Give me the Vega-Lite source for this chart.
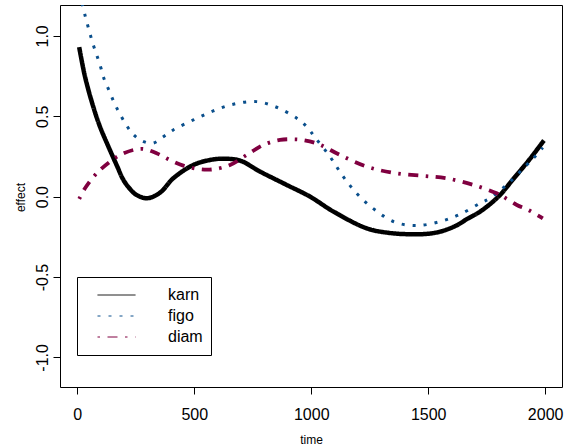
{
  "$schema": "https://vega.github.io/schema/vega-lite/v6.json",
  "autosize": {"type": "none"},
  "width": 502,
  "height": 382,
  "padding": {"left": 60, "top": 5, "right": 2, "bottom": 60},
  "background": "white",
  "datasets": {
    "curves": [
      {"series": "karn", "time": 8, "effect": 0.93},
      {"series": "karn", "time": 33, "effect": 0.746},
      {"series": "karn", "time": 68, "effect": 0.56},
      {"series": "karn", "time": 97, "effect": 0.435},
      {"series": "karn", "time": 133, "effect": 0.311},
      {"series": "karn", "time": 170, "effect": 0.19},
      {"series": "karn", "time": 197, "effect": 0.104},
      {"series": "karn", "time": 230, "effect": 0.04},
      {"series": "karn", "time": 254, "effect": 0.01},
      {"series": "karn", "time": 299, "effect": -0.01},
      {"series": "karn", "time": 354, "effect": 0.025},
      {"series": "karn", "time": 410, "effect": 0.114},
      {"series": "karn", "time": 496, "effect": 0.197},
      {"series": "karn", "time": 567, "effect": 0.228},
      {"series": "karn", "time": 624, "effect": 0.236},
      {"series": "karn", "time": 696, "effect": 0.224},
      {"series": "karn", "time": 781, "effect": 0.156},
      {"series": "karn", "time": 895, "effect": 0.073},
      {"series": "karn", "time": 995, "effect": 0.0},
      {"series": "karn", "time": 1095, "effect": -0.093},
      {"series": "karn", "time": 1237, "effect": -0.197},
      {"series": "karn", "time": 1330, "effect": -0.225},
      {"series": "karn", "time": 1422, "effect": -0.234},
      {"series": "karn", "time": 1490, "effect": -0.232},
      {"series": "karn", "time": 1551, "effect": -0.218},
      {"series": "karn", "time": 1620, "effect": -0.18},
      {"series": "karn", "time": 1665, "effect": -0.14},
      {"series": "karn", "time": 1722, "effect": -0.093},
      {"series": "karn", "time": 1800, "effect": 0.0},
      {"series": "karn", "time": 1864, "effect": 0.11},
      {"series": "karn", "time": 1935, "effect": 0.235},
      {"series": "karn", "time": 1995, "effect": 0.35},
      {"series": "figo", "time": 8, "effect": 1.27},
      {"series": "figo", "time": 23, "effect": 1.186},
      {"series": "figo", "time": 37, "effect": 1.105},
      {"series": "figo", "time": 51, "effect": 1.031},
      {"series": "figo", "time": 66, "effect": 0.954},
      {"series": "figo", "time": 83, "effect": 0.881},
      {"series": "figo", "time": 100, "effect": 0.805},
      {"series": "figo", "time": 115, "effect": 0.73},
      {"series": "figo", "time": 136, "effect": 0.659},
      {"series": "figo", "time": 157, "effect": 0.587},
      {"series": "figo", "time": 180, "effect": 0.519},
      {"series": "figo", "time": 207, "effect": 0.452},
      {"series": "figo", "time": 237, "effect": 0.39},
      {"series": "figo", "time": 275, "effect": 0.348},
      {"series": "figo", "time": 322, "effect": 0.332},
      {"series": "figo", "time": 365, "effect": 0.37},
      {"series": "figo", "time": 410, "effect": 0.415},
      {"series": "figo", "time": 496, "effect": 0.477},
      {"series": "figo", "time": 581, "effect": 0.533},
      {"series": "figo", "time": 667, "effect": 0.575},
      {"series": "figo", "time": 767, "effect": 0.591},
      {"series": "figo", "time": 852, "effect": 0.556},
      {"series": "figo", "time": 938, "effect": 0.488},
      {"series": "figo", "time": 981, "effect": 0.435},
      {"series": "figo", "time": 1016, "effect": 0.369},
      {"series": "figo", "time": 1080, "effect": 0.249},
      {"series": "figo", "time": 1137, "effect": 0.124},
      {"series": "figo", "time": 1201, "effect": 0.01},
      {"series": "figo", "time": 1273, "effect": -0.083},
      {"series": "figo", "time": 1358, "effect": -0.159},
      {"series": "figo", "time": 1451, "effect": -0.18},
      {"series": "figo", "time": 1551, "effect": -0.155},
      {"series": "figo", "time": 1636, "effect": -0.11},
      {"series": "figo", "time": 1722, "effect": -0.041},
      {"series": "figo", "time": 1764, "effect": -0.01},
      {"series": "figo", "time": 1843, "effect": 0.083},
      {"series": "figo", "time": 1914, "effect": 0.187},
      {"series": "figo", "time": 1950, "effect": 0.239},
      {"series": "figo", "time": 1990, "effect": 0.305},
      {"series": "diam", "time": 8, "effect": -0.014},
      {"series": "diam", "time": 33, "effect": 0.052},
      {"series": "diam", "time": 83, "effect": 0.146},
      {"series": "diam", "time": 140, "effect": 0.218},
      {"series": "diam", "time": 183, "effect": 0.259},
      {"series": "diam", "time": 239, "effect": 0.29},
      {"series": "diam", "time": 282, "effect": 0.297},
      {"series": "diam", "time": 339, "effect": 0.27},
      {"series": "diam", "time": 396, "effect": 0.228},
      {"series": "diam", "time": 453, "effect": 0.193},
      {"series": "diam", "time": 525, "effect": 0.17},
      {"series": "diam", "time": 581, "effect": 0.17},
      {"series": "diam", "time": 653, "effect": 0.197},
      {"series": "diam", "time": 724, "effect": 0.259},
      {"series": "diam", "time": 795, "effect": 0.322},
      {"series": "diam", "time": 867, "effect": 0.353},
      {"series": "diam", "time": 923, "effect": 0.357},
      {"series": "diam", "time": 966, "effect": 0.352},
      {"series": "diam", "time": 1030, "effect": 0.328},
      {"series": "diam", "time": 1123, "effect": 0.259},
      {"series": "diam", "time": 1237, "effect": 0.187},
      {"series": "diam", "time": 1358, "effect": 0.146},
      {"series": "diam", "time": 1479, "effect": 0.129},
      {"series": "diam", "time": 1579, "effect": 0.114},
      {"series": "diam", "time": 1693, "effect": 0.073},
      {"series": "diam", "time": 1793, "effect": 0.021},
      {"series": "diam", "time": 1820, "effect": 0.0},
      {"series": "diam", "time": 1879, "effect": -0.052},
      {"series": "diam", "time": 1928, "effect": -0.083},
      {"series": "diam", "time": 1990, "effect": -0.135}
    ]
  },
  "encoding": {
    "x": {
      "field": "time", "type": "quantitative",
      "scale": {"domain": [-74, 2072], "nice": false, "zero": false},
      "axis": {
        "values": [0, 500, 1000, 1500, 2000], "format": "d", "title": "time",
        "labelPadding": 20, "labelBaseline": "middle",
        "titleY": 52, "titleBaseline": "middle"
      }
    },
    "y": {
      "field": "effect", "type": "quantitative",
      "scale": {"domain": [-1.184, 1.192], "nice": false, "zero": false},
      "axis": {
        "values": [-1, -0.5, 0, 0.5, 1],
        "labelExpr": "datum.value < 0 ? '-' + format(-datum.value, '.1f') : format(datum.value, '.1f')",
        "labelAngle": 270, "labelAlign": "center", "labelBaseline": "middle", "labelPadding": 11,
        "title": "effect", "titleX": -39.5, "titleY": 192, "titleBaseline": "middle", "titleAlign": "center", "titleAngle": 270
      }
    },
    "color": {
      "field": "series", "type": "nominal",
      "scale": {"domain": ["karn", "figo", "diam"], "range": ["#000000", "#0a4f8c", "#800040"]},
      "legend": {"title": null}
    },
    "strokeDash": {
      "field": "series", "type": "nominal",
      "scale": {"domain": ["karn", "figo", "diam"], "range": [[1, 0], [3, 8], [2.5, 7.5, 10, 7.5]]},
      "legend": {"title": null}
    }
  },
  "layer": [
    {
      "data": {"name": "curves"},
      "mark": {"type": "line", "interpolate": "catmull-rom", "clip": true, "strokeWidth": 1, "opacity": 0}
    },
    {
      "data": {"name": "curves"},
      "transform": [{"filter": "datum.series === 'karn'"}],
      "mark": {"type": "line", "interpolate": "catmull-rom", "clip": true, "strokeWidth": 4.5}
    },
    {
      "data": {"name": "curves"},
      "transform": [{"filter": "datum.series === 'figo'"}],
      "mark": {"type": "line", "interpolate": "catmull-rom", "clip": true, "strokeWidth": 3}
    },
    {
      "data": {"name": "curves"},
      "transform": [{"filter": "datum.series === 'diam'"}],
      "mark": {"type": "line", "interpolate": "catmull-rom", "clip": true, "strokeWidth": 3.8}
    },
    {
      "mark": {"type": "rule", "color": "black", "strokeWidth": 1},
      "encoding": {"y": {"datum": 0}, "x": null, "color": null, "strokeDash": null}
    }
  ],
  "config": {
    "view": {"stroke": "black", "strokeWidth": 1},
    "axis": {
      "grid": false, "domain": false, "tickColor": "black", "tickSize": 7, "tickWidth": 1,
      "labelFont": "Liberation Sans", "labelFontSize": 16, "labelColor": "black",
      "titleFont": "Liberation Sans", "titleFontSize": 12, "titleFontWeight": "normal", "titleColor": "black"
    },
    "legend": {
      "orient": "none", "legendX": 17, "legendY": 272,
      "strokeColor": "black", "padding": 8,
      "symbolType": "stroke", "symbolSize": 1444, "symbolStrokeWidth": 1, "symbolOffset": 12, "symbolOpacity": 1,
      "labelOffset": 32, "labelFont": "Liberation Sans", "labelFontSize": 16, "labelColor": "black",
      "clipHeight": 20, "rowPadding": 1,
      "labelExpr": "datum.label + '\u00a0\u00a0\u00a0\u00a0'"
    }
  }
}
